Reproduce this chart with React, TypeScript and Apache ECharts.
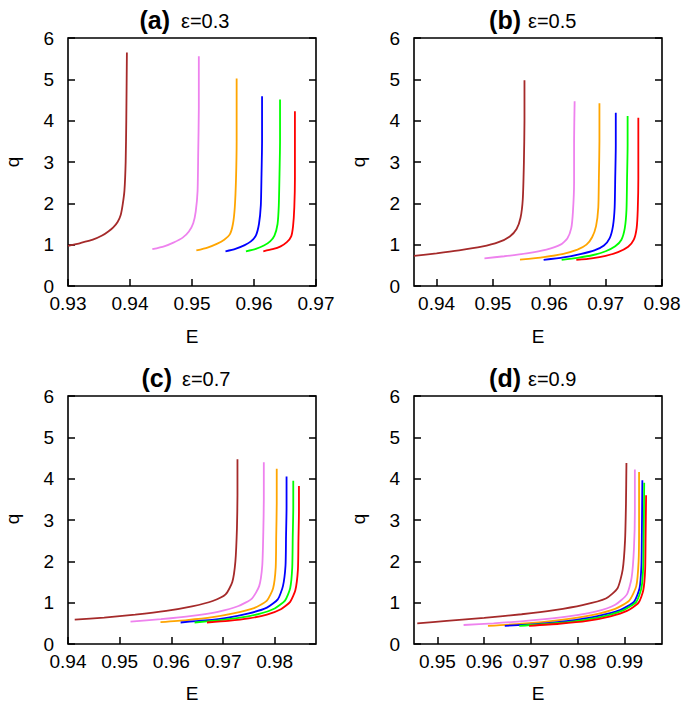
import React, { useEffect, useRef } from "react";
import * as echarts from "echarts";

// ---------- data ----------
const PANEL_LABELS = ["(a)", "(b)", "(c)", "(d)"];
const EPS_LABELS = ["ε=0.3", "ε=0.5", "ε=0.7", "ε=0.9"];
const X_RANGES: [number, number][] = [
  [0.93, 0.97],
  [0.936, 0.98],
  [0.94, 0.988],
  [0.945, 0.998],
];
const X_TICKS = [
  [0.93, 0.94, 0.95, 0.96, 0.97],
  [0.94, 0.95, 0.96, 0.97, 0.98],
  [0.94, 0.95, 0.96, 0.97, 0.98],
  [0.95, 0.96, 0.97, 0.98, 0.99],
];
const Y_RANGE: [number, number] = [0, 6];
const CURVE_COLORS = ["#a52a2a", "#ee82ee", "#ffa500", "#0000ff", "#00ff00", "#ff0000"];

type Pt = [number, number];

// panel (a) eps=0.3
const a_brown: Pt[] = [[0.93, 0.97], [0.932, 1.04], [0.934, 1.12], [0.9355, 1.22], [0.9365, 1.32], [0.9373, 1.42], [0.938, 1.55], [0.9385, 1.72], [0.9388, 1.95], [0.9391, 2.3], [0.9393, 3.0], [0.9394, 4.0], [0.9395, 5.65]];
const a_violet: Pt[] = [[0.9436, 0.89], [0.9455, 0.96], [0.947, 1.05], [0.9485, 1.17], [0.9495, 1.32], [0.9502, 1.52], [0.9506, 1.8], [0.9509, 2.3], [0.951, 3.2], [0.9511, 4.3], [0.9511, 5.56]];
const a_orange: Pt[] = [[0.9507, 0.86], [0.9525, 0.93], [0.954, 1.02], [0.9552, 1.12], [0.9561, 1.25], [0.9566, 1.5], [0.9569, 1.9], [0.9571, 2.6], [0.9572, 3.5], [0.9572, 5.02]];
const a_blue: Pt[] = [[0.9554, 0.84], [0.957, 0.9], [0.9585, 0.99], [0.9595, 1.08], [0.9603, 1.22], [0.9608, 1.5], [0.9611, 1.95], [0.9612, 2.6], [0.9613, 3.5], [0.9613, 4.59]];
const a_green: Pt[] = [[0.9587, 0.84], [0.9603, 0.9], [0.9616, 0.98], [0.9626, 1.08], [0.9633, 1.22], [0.9638, 1.5], [0.964, 1.95], [0.9641, 2.6], [0.9642, 3.5], [0.9642, 4.51]];
const a_red: Pt[] = [[0.9615, 0.84], [0.963, 0.89], [0.9643, 0.96], [0.9653, 1.06], [0.966, 1.2], [0.9663, 1.45], [0.9665, 1.9], [0.9666, 2.6], [0.9666, 3.3], [0.9666, 4.23]];

// panel (b) eps=0.5
const b_brown: Pt[] = [[0.936, 0.73], [0.94, 0.79], [0.944, 0.86], [0.948, 0.95], [0.951, 1.06], [0.953, 1.2], [0.9542, 1.38], [0.9549, 1.65], [0.9553, 2.1], [0.9555, 3.0], [0.9556, 4.0], [0.9556, 4.98]];
const b_violet: Pt[] = [[0.9485, 0.67], [0.952, 0.72], [0.956, 0.79], [0.9595, 0.88], [0.962, 1.0], [0.9632, 1.15], [0.9639, 1.4], [0.9642, 1.8], [0.9644, 2.5], [0.9644, 3.5], [0.9645, 4.47]];
const b_orange: Pt[] = [[0.9548, 0.64], [0.959, 0.7], [0.9625, 0.78], [0.965, 0.88], [0.9666, 1.0], [0.9676, 1.18], [0.9683, 1.45], [0.9687, 1.9], [0.9688, 2.6], [0.9689, 3.5], [0.9689, 4.42]];
const b_blue: Pt[] = [[0.959, 0.63], [0.9625, 0.69], [0.9655, 0.77], [0.968, 0.86], [0.9697, 0.98], [0.9707, 1.15], [0.9713, 1.45], [0.9716, 1.9], [0.9717, 2.6], [0.9718, 3.4], [0.9718, 4.19]];
const b_green: Pt[] = [[0.9622, 0.63], [0.965, 0.68], [0.9678, 0.75], [0.97, 0.84], [0.9717, 0.96], [0.9728, 1.12], [0.9734, 1.4], [0.9737, 1.85], [0.9738, 2.6], [0.9739, 3.4], [0.9739, 4.11]];
const b_red: Pt[] = [[0.9648, 0.63], [0.9675, 0.67], [0.97, 0.73], [0.9722, 0.82], [0.974, 0.95], [0.975, 1.12], [0.9755, 1.4], [0.9757, 1.85], [0.9758, 2.6], [0.9758, 3.3], [0.9758, 4.07]];

// panel (c) eps=0.7
const c_brown: Pt[] = [[0.9413, 0.59], [0.947, 0.64], [0.953, 0.71], [0.959, 0.8], [0.964, 0.91], [0.968, 1.04], [0.9705, 1.2], [0.9718, 1.5], [0.9724, 2.0], [0.9727, 2.8], [0.9728, 3.6], [0.9728, 4.47]];
const c_violet: Pt[] = [[0.9521, 0.54], [0.958, 0.6], [0.964, 0.68], [0.969, 0.78], [0.973, 0.92], [0.9756, 1.1], [0.977, 1.4], [0.9776, 1.9], [0.9778, 2.7], [0.9779, 3.5], [0.9779, 4.4]];
const c_orange: Pt[] = [[0.9579, 0.53], [0.963, 0.58], [0.968, 0.65], [0.972, 0.74], [0.976, 0.87], [0.9785, 1.05], [0.9797, 1.35], [0.9802, 1.85], [0.9803, 2.6], [0.9804, 3.4], [0.9804, 4.24]];
const c_blue: Pt[] = [[0.9618, 0.52], [0.9665, 0.57], [0.971, 0.64], [0.975, 0.74], [0.9785, 0.88], [0.9806, 1.08], [0.9816, 1.4], [0.9821, 1.9], [0.9822, 2.6], [0.9823, 3.3], [0.9823, 4.05]];
const c_green: Pt[] = [[0.9645, 0.52], [0.969, 0.57], [0.973, 0.63], [0.977, 0.73], [0.98, 0.86], [0.982, 1.05], [0.983, 1.35], [0.9834, 1.85], [0.9835, 2.6], [0.9836, 3.3], [0.9836, 3.95]];
const c_red: Pt[] = [[0.9669, 0.52], [0.971, 0.56], [0.975, 0.62], [0.9785, 0.71], [0.9812, 0.84], [0.983, 1.02], [0.984, 1.3], [0.9845, 1.8], [0.9846, 2.5], [0.9847, 3.2], [0.9847, 3.82]];

// panel (d) eps=0.9
const d_brown: Pt[] = [[0.9457, 0.5], [0.952, 0.56], [0.96, 0.63], [0.968, 0.72], [0.975, 0.82], [0.981, 0.94], [0.986, 1.1], [0.9885, 1.35], [0.9896, 1.8], [0.9901, 2.5], [0.9903, 3.4], [0.9904, 4.38]];
const d_violet: Pt[] = [[0.9556, 0.46], [0.962, 0.5], [0.97, 0.57], [0.978, 0.67], [0.984, 0.79], [0.988, 0.95], [0.9905, 1.2], [0.9915, 1.6], [0.992, 2.3], [0.9922, 3.2], [0.9922, 4.22]];
const d_orange: Pt[] = [[0.9608, 0.44], [0.968, 0.49], [0.976, 0.58], [0.983, 0.7], [0.988, 0.85], [0.991, 1.05], [0.9925, 1.4], [0.993, 2.0], [0.9931, 2.8], [0.9931, 4.16]];
const d_blue: Pt[] = [[0.9644, 0.44], [0.971, 0.48], [0.978, 0.56], [0.984, 0.67], [0.989, 0.82], [0.992, 1.02], [0.9932, 1.35], [0.9936, 1.9], [0.9937, 2.7], [0.9938, 3.96]];
const d_green: Pt[] = [[0.9675, 0.44], [0.974, 0.49], [0.98, 0.56], [0.9855, 0.67], [0.9898, 0.82], [0.9925, 1.02], [0.9936, 1.35], [0.994, 1.9], [0.9941, 2.7], [0.9942, 3.9]];
const d_red: Pt[] = [[0.9696, 0.44], [0.976, 0.49], [0.982, 0.56], [0.987, 0.67], [0.9905, 0.8], [0.993, 1.0], [0.994, 1.3], [0.9944, 1.8], [0.9945, 2.6], [0.9946, 3.6]];

const PANEL_CURVES: Pt[][][] = [
  [a_brown, a_violet, a_orange, a_blue, a_green, a_red],
  [b_brown, b_violet, b_orange, b_blue, b_green, b_red],
  [c_brown, c_violet, c_orange, c_blue, c_green, c_red],
  [d_brown, d_violet, d_orange, d_blue, d_green, d_red],
];

// ---------- layout ----------
const FONT = "'Liberation Sans', Arial, Helvetica, sans-serif";
const GRID_POS = [
  { left: 68, top: 38 },
  { left: 414, top: 38 },
  { left: 68, top: 396 },
  { left: 414, top: 396 },
];
const PLOT_W = 248;
const PLOT_H = 248;
const TITLE_POS = [
  { endX: 170, startX: 181, y: 20 },
  { endX: 521, startX: 528, y: 20 },
  { endX: 172, startX: 182, y: 378 },
  { endX: 521, startX: 528, y: 378 },
];
const XNAME_POS = [
  { x: 192, y: 336 },
  { x: 538, y: 336 },
  { x: 192, y: 693 },
  { x: 538, y: 693 },
];
const YNAME_POS = [
  { x: 12, y: 162 },
  { x: 358, y: 162 },
  { x: 12, y: 519 },
  { x: 358, y: 519 },
];

function buildOption() {
  const grid: any[] = [];
  const xAxis: any[] = [];
  const yAxis: any[] = [];
  const series: any[] = [];
  const graphic: any[] = [];
  const tickStyle = { color: "#000", width: 1.5 };

  for (let p = 0; p < 4; p++) {
    grid.push({
      left: GRID_POS[p].left,
      top: GRID_POS[p].top,
      width: PLOT_W,
      height: PLOT_H,
      show: true,
      borderColor: "#000",
      borderWidth: 1.6,
      backgroundColor: "transparent",
      containLabel: false,
    });
    xAxis.push({
      type: "value",
      gridIndex: p,
      min: X_RANGES[p][0],
      max: X_RANGES[p][1],
      axisLine: { show: false },
      splitLine: { show: false },
      axisTick: { show: true, inside: true, length: 7, lineStyle: tickStyle, customValues: X_TICKS[p] },
      axisLabel: {
        show: true,
        customValues: X_TICKS[p],
        formatter: (v: number) => v.toFixed(2),
        color: "#000",
        fontSize: 19,
        fontFamily: FONT,
        margin: 8,
        showMinLabel: true,
        showMaxLabel: true,
      },
    });
    yAxis.push({
      type: "value",
      gridIndex: p,
      position: "left",
      min: Y_RANGE[0],
      max: Y_RANGE[1],
      interval: 1,
      axisLine: { show: false },
      splitLine: { show: false },
      axisTick: { show: true, inside: true, length: 7, lineStyle: tickStyle },
      axisLabel: { color: "#000", fontSize: 19, fontFamily: FONT, margin: 14 },
    });
    yAxis.push({
      type: "value",
      gridIndex: p,
      position: "right",
      min: Y_RANGE[0],
      max: Y_RANGE[1],
      interval: 1,
      axisLine: { show: false },
      splitLine: { show: false },
      axisTick: { show: true, inside: true, length: 7, lineStyle: tickStyle },
      axisLabel: { show: false },
    });
    PANEL_CURVES[p].forEach((curve, i) => {
      series.push({
        type: "line",
        xAxisIndex: p,
        yAxisIndex: 2 * p,
        data: curve,
        showSymbol: false,
        symbol: "none",
        smooth: 0.2,
        clip: true,
        lineStyle: { color: CURVE_COLORS[i], width: 1.8 },
        itemStyle: { color: CURVE_COLORS[i] },
        z: 3,
      });
    });
    graphic.push({
      type: "text",
      x: TITLE_POS[p].endX,
      y: TITLE_POS[p].y,
      style: {
        text: PANEL_LABELS[p],
        font: `bold 25px ${FONT}`,
        fill: "#000",
        textAlign: "right",
        textVerticalAlign: "middle",
      },
    });
    graphic.push({
      type: "text",
      x: TITLE_POS[p].startX,
      y: TITLE_POS[p].y + 1,
      style: {
        text: EPS_LABELS[p],
        font: `20px ${FONT}`,
        fill: "#000",
        textAlign: "left",
        textVerticalAlign: "middle",
      },
    });
    graphic.push({
      type: "text",
      x: XNAME_POS[p].x,
      y: XNAME_POS[p].y,
      style: {
        text: "E",
        font: `19px ${FONT}`,
        fill: "#000",
        textAlign: "center",
        textVerticalAlign: "middle",
      },
    });
    graphic.push({
      type: "text",
      x: YNAME_POS[p].x,
      y: YNAME_POS[p].y,
      rotation: Math.PI / 2,
      style: {
        text: "q",
        font: `19px ${FONT}`,
        fill: "#000",
        textAlign: "center",
        textVerticalAlign: "middle",
      },
    });
  }

  return {
    animation: false,
    backgroundColor: "#fff",
    grid,
    xAxis,
    yAxis,
    series,
    graphic,
  };
}

export default function App() {
  const ref = useRef<HTMLDivElement>(null);
  useEffect(() => {
    if (!ref.current) return;
    const chart = echarts.init(ref.current, null, { renderer: "svg" });
    chart.setOption(buildOption() as any);
    return () => chart.dispose();
  }, []);
  return (
    <div
      ref={ref}
      style={{ position: "fixed", left: 0, top: 0, width: 685, height: 706, background: "#fff" }}
    />
  );
}
